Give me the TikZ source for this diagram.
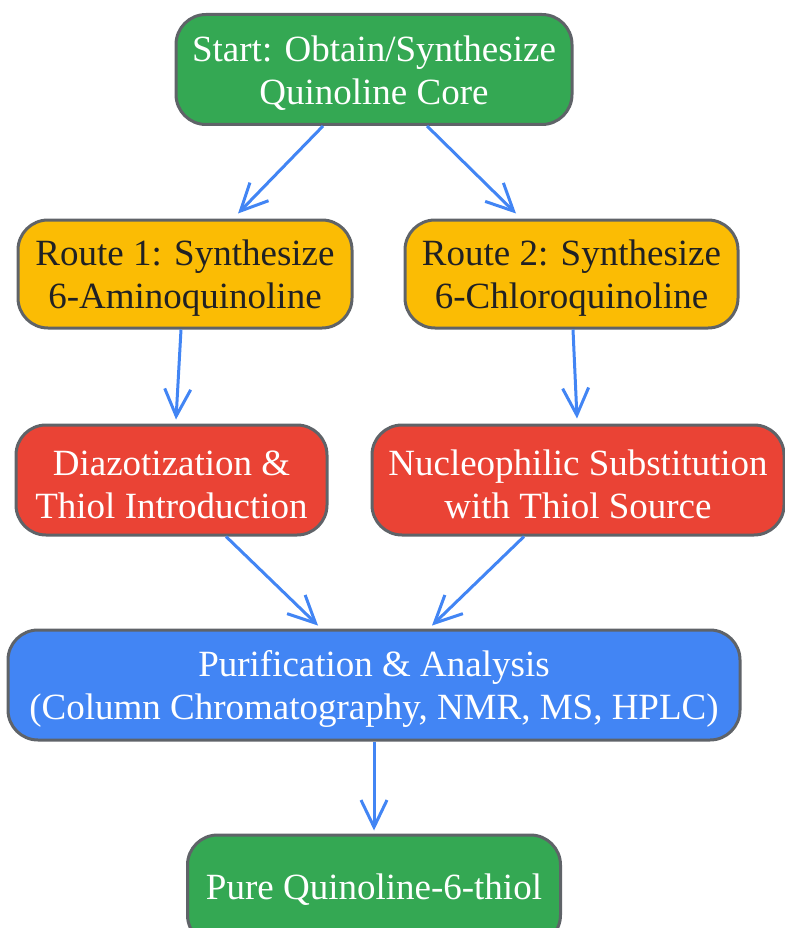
\documentclass[tikz,border=0pt]{standalone}
\usepackage{fontspec}
\setmainfont{Liberation Serif}
\usetikzlibrary{arrows.meta,calc}
\definecolor{cgreen}{HTML}{34A853}
\definecolor{cyellow}{HTML}{FBBC04}
\definecolor{cred}{HTML}{EA4335}
\definecolor{cblue}{HTML}{4285F4}
\definecolor{cborder}{HTML}{5F6368}
\definecolor{cdark}{HTML}{202124}
\newcommand{\topstrut}{\rule{0pt}{34pt}}
\begin{document}
\begin{tikzpicture}[x=1pt,y=-1pt,
  box/.style={draw=cborder,line width=3pt,rounded corners=30pt,align=center,
    font=\fontsize{37}{43}\selectfont,inner sep=0pt,minimum height=110pt},
  gbox/.style={box,fill=cgreen,text=white},
  ybox/.style={box,fill=cyellow,text=cdark},
  rbox/.style={box,fill=cred,text=white},
  bbox/.style={box,fill=cblue,text=white},
  conn/.style={draw=cblue,line width=3pt,-{Straight Barb[length=27pt,width=26pt]}}]
\useasboundingbox (0,0) rectangle (784,928);
\node[gbox,minimum width=396pt] (start) at (374,69.5) {\topstrut Start: Obtain/Synthesize\\Quinoline Core};
\node[ybox,minimum width=334pt,minimum height=108pt] (r1) at (185,274) {\topstrut Route 1: Synthesize\\6-Aminoquinoline};
\node[ybox,minimum width=333pt,minimum height=108pt] (r2) at (571.5,274) {\topstrut Route 2: Synthesize\\6-Chloroquinoline};
\node[rbox,minimum width=311pt] (diaz) at (171.5,480) {\topstrut Diazotization \&\\Thiol Introduction};
\node[rbox,minimum width=412pt] (nuc) at (578,480) {\topstrut Nucleophilic Substitution\\with Thiol Source};
\node[bbox,minimum width=732pt] (pur) at (374,685) {\topstrut Purification \& Analysis\\(Column Chromatography, NMR, MS, HPLC)};
\node[gbox,minimum width=373pt] (pure) at (374,890) {Pure Quinoline-6-thiol};
\draw[conn] ($(start.south)+(-51,0)$) -- ($(r1.north)+(53,-5)$);
\draw[conn] ($(start.south)+(53,0)$) -- ($(r2.north)+(-55.5,-5)$);
\draw[conn] ($(r1.south)+(-4,0)$) -- ($(diaz.north)+(4.5,-4)$);
\draw[conn] ($(r2.south)+(1.5,0)$) -- ($(nuc.north)+(-1,-5)$);
\draw[conn] ($(diaz.south)+(54.5,0)$) -- ($(pur.north)+(-56,-3)$);
\draw[conn] ($(nuc.south)+(-54,0)$) -- ($(pur.north)+(58,-3)$);
\draw[conn] (pur.south) -- ($(pure.north)+(0,-3)$);
\end{tikzpicture}
\end{document}
